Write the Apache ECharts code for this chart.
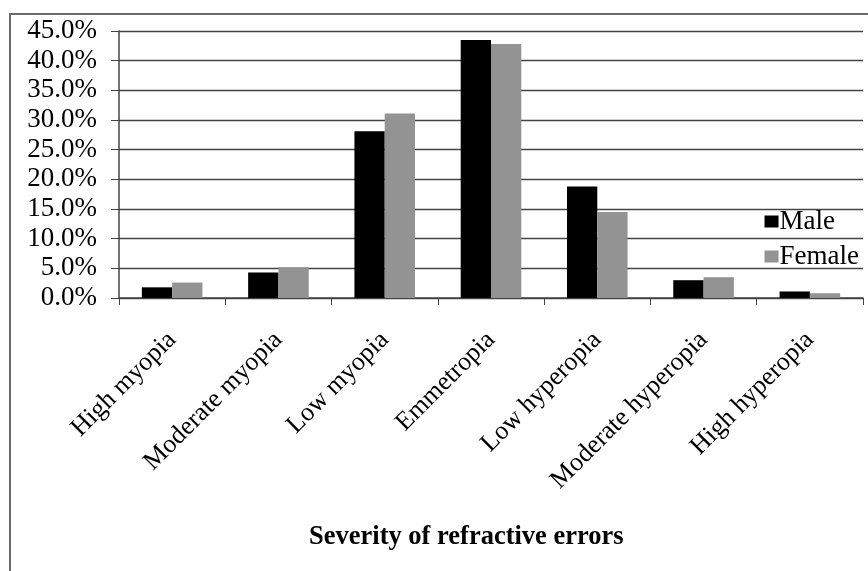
<!DOCTYPE html>
<html>
<head>
<meta charset="utf-8">
<script src="https://cdn.jsdelivr.net/npm/echarts@6/dist/echarts.min.js"></script>
<style>
html,body{margin:0;padding:0;background:#fff;}
#chart{width:868px;height:571px;}
</style>
</head>
<body>
<div id="chart"></div>
<script>
var categories = ['High myopia', 'Moderate myopia', 'Low myopia', 'Emmetropia', 'Low hyperopia', 'Moderate hyperopia', 'High hyperopia'];
var maleValues = [1.8, 4.3, 28.1, 43.5, 18.8, 3.0, 1.1];
var femaleValues = [2.6, 5.2, 31.1, 42.8, 14.5, 3.5, 0.8];
var seriesNames = ['Male', 'Female'];
var axisTitle = 'Severity of refractive errors';

var chart = echarts.init(document.getElementById('chart'), null, {renderer: 'canvas'});
var serif = '"Liberation Serif", "DejaVu Serif", serif';
chart.setOption({
  backgroundColor: '#ffffff',
  animation: false,
  graphic: [{
    type: 'rect',
    shape: {x: 10, y: 14, width: 900, height: 600},
    style: {fill: 'none', stroke: '#6a6a6a', lineWidth: 2},
    silent: true
  }, {
    type: 'text',
    left: 309,
    top: 524,
    style: {text: axisTitle, font: 'bold 26.5px "Liberation Serif", serif', fill: '#000'},
    silent: true
  }],
  grid: {left: 119, top: 31, right: 5, bottom: 273, containLabel: false},
  legend: {
    orient: 'vertical',
    right: 4,
    top: 203,
    itemWidth: 14,
    itemHeight: 12,
    itemGap: 8,
    icon: 'rect',
    data: seriesNames,
    textStyle: {fontFamily: serif, fontSize: 27, color: '#000', padding: [0, 0, 0, -4]}
  },
  xAxis: {
    type: 'category',
    data: categories,
    axisLine: {lineStyle: {color: '#444', width: 1.5}},
    axisTick: {show: true, length: 7, lineStyle: {color: '#444'}},
    axisLabel: {rotate: 45, margin: 38, interval: 0, fontFamily: serif, fontSize: 26, color: '#000'}
  },
  yAxis: {
    type: 'value',
    min: 0,
    max: 45,
    interval: 5,
    axisLine: {show: true, lineStyle: {color: '#444', width: 1.5}},
    axisTick: {show: true, length: 8, lineStyle: {color: '#444'}},
    axisLabel: {margin: 22, fontFamily: serif, fontSize: 27, color: '#000',
      formatter: function (v) { return v.toFixed(1) + '%'; }},
    splitLine: {show: true, lineStyle: {color: '#444', width: 1.3}}
  },
  series: [{
    name: seriesNames[0],
    type: 'bar',
    data: maleValues,
    barGap: '0%',
    barCategoryGap: '43%',
    itemStyle: {color: '#000000'}
  }, {
    name: seriesNames[1],
    type: 'bar',
    data: femaleValues,
    itemStyle: {color: '#939393'}
  }]
});
</script>
</body>
</html>
